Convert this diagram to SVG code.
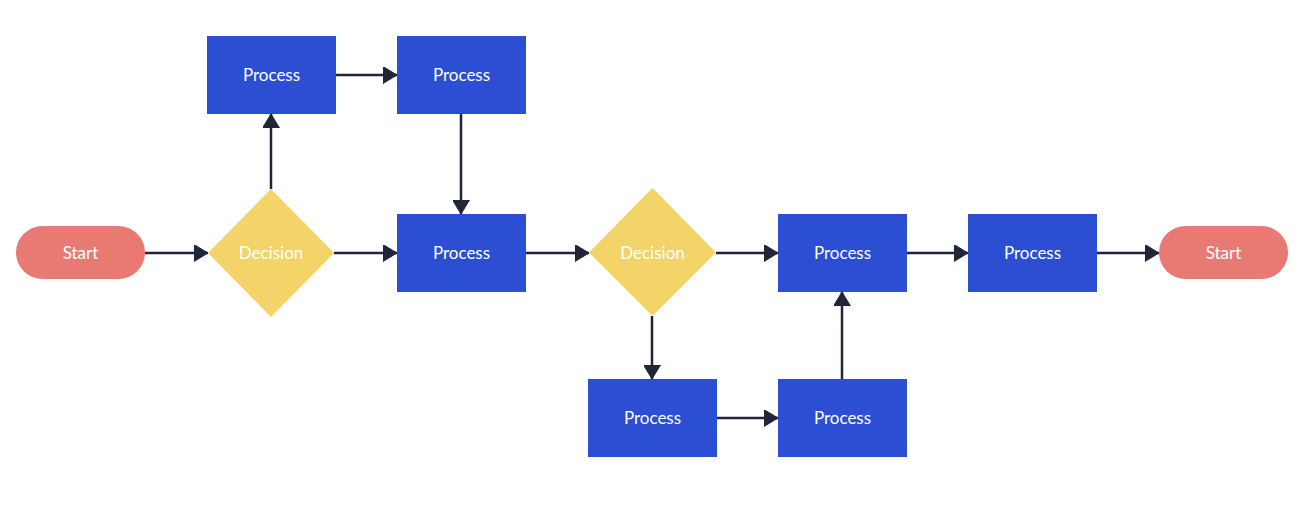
<svg xmlns="http://www.w3.org/2000/svg" width="1298" height="507" viewBox="0 0 1298 507">
  <style>
    .proc { fill: #2b4ed3; }
    .term { fill: #e97a73; }
    .dec { fill: #f2d468; }
    .label { font-family: Lato, "Liberation Sans", sans-serif; font-size: 17px; fill: #ffffff; text-anchor: middle; dominant-baseline: central; }
    .edge { stroke: #202638; stroke-width: 2.5; fill: none; marker-end: url(#arrow); }
  </style>
  <defs>
    <marker id="arrow" markerUnits="userSpaceOnUse" markerWidth="14" markerHeight="17" viewBox="0 0 14 17" refX="14" refY="8.5" orient="auto">
      <path d="M0,0 L14,8.5 L0,17 Z" fill="#202638" stroke="#202638" stroke-width="1" stroke-linejoin="round"/>
    </marker>
  </defs>
  <rect width="1298" height="507" fill="#ffffff"/>

  <g id="connectors">
    <line class="edge" x1="145" y1="253" x2="208" y2="253"/>
    <line class="edge" x1="271" y1="189" x2="271" y2="114"/>
    <line class="edge" x1="336" y1="75" x2="397" y2="75"/>
    <line class="edge" x1="461" y1="114" x2="461" y2="214"/>
    <line class="edge" x1="334" y1="253" x2="397" y2="253"/>
    <line class="edge" x1="526" y1="253" x2="589" y2="253"/>
    <line class="edge" x1="716" y1="253" x2="778" y2="253"/>
    <line class="edge" x1="652" y1="316" x2="652" y2="379"/>
    <line class="edge" x1="717" y1="418" x2="778" y2="418"/>
    <line class="edge" x1="842" y1="379" x2="842" y2="292"/>
    <line class="edge" x1="907" y1="253" x2="968" y2="253"/>
    <line class="edge" x1="1097" y1="253" x2="1159" y2="253"/>
  </g>

  <g id="start-1">
    <rect class="term" x="16" y="226" width="129" height="53" rx="26.5"/>
    <text class="label" x="80.5" y="252.5">Start</text>
  </g>
  <g id="decision-1">
    <polygon class="dec" points="271,189 334,253 271,317 208,253"/>
    <text class="label" x="271" y="252.5">Decision</text>
  </g>
  <g id="process-top-left">
    <rect class="proc" x="207" y="36" width="129" height="78"/>
    <text class="label" x="271.5" y="74.5">Process</text>
  </g>
  <g id="process-top-right">
    <rect class="proc" x="397" y="36" width="129" height="78"/>
    <text class="label" x="461.5" y="74.5">Process</text>
  </g>
  <g id="process-mid-1">
    <rect class="proc" x="397" y="214" width="129" height="78"/>
    <text class="label" x="461.5" y="252.5">Process</text>
  </g>
  <g id="decision-2">
    <polygon class="dec" points="652.5,188 716,252.5 652.5,316 589,252.5"/>
    <text class="label" x="652.5" y="252.5">Decision</text>
  </g>
  <g id="process-mid-2">
    <rect class="proc" x="778" y="214" width="129" height="78"/>
    <text class="label" x="842.5" y="252.5">Process</text>
  </g>
  <g id="process-bottom-left">
    <rect class="proc" x="588" y="379" width="129" height="78"/>
    <text class="label" x="652.5" y="417.5">Process</text>
  </g>
  <g id="process-bottom-right">
    <rect class="proc" x="778" y="379" width="129" height="78"/>
    <text class="label" x="842.5" y="417.5">Process</text>
  </g>
  <g id="process-mid-3">
    <rect class="proc" x="968" y="214" width="129" height="78"/>
    <text class="label" x="1032.5" y="252.5">Process</text>
  </g>
  <g id="start-2">
    <rect class="term" x="1159" y="226" width="129" height="53" rx="26.5"/>
    <text class="label" x="1223.5" y="252.5">Start</text>
  </g>
</svg>
